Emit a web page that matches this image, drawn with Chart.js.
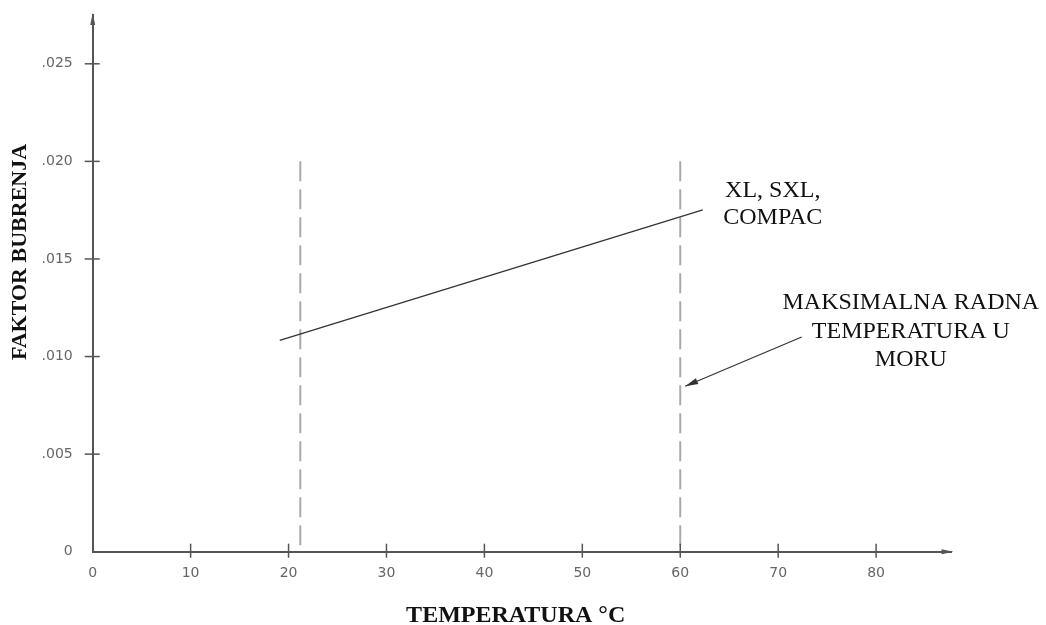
<!DOCTYPE html>
<html><head><meta charset="utf-8">
<script src="https://cdn.jsdelivr.net/npm/chart.js@4.4.1/dist/chart.umd.min.js"></script>
<style>html,body{margin:0;padding:0;background:#fff}#wrap{width:1046px;height:625px;position:relative}</style>
</head><body><div id="wrap"><canvas id="c"></canvas></div>
<script>
// ---- data ----
const xTicks = [0, 10, 20, 30, 40, 50, 60, 70, 80];
const xTickLabels = ['0', '10', '20', '30', '40', '50', '60', '70', '80'];
const yTicks = [0, 0.005, 0.010, 0.015, 0.020, 0.025];
const yTickLabels = ['0', '.005', '.010', '.015', '.020', '.025'];
const xRange = [0, 87.7];
const yRange = [0, 0.0275];
const curveTemp = [19.1, 62.3];
const curveFactor = [0.01083, 0.01752];
const refTemps = [21.2, 60];
const refFactor = [0.020, 0.0002];   // dashed reference lines, drawn top -> bottom
const pointerTemp = [72.4, 60.5];
const pointerFactor = [0.0110, 0.00848];
const curveLabel = ['XL, SXL,', 'COMPAC'];
const noteLabel = ['MAKSIMALNA RADNA', 'TEMPERATURA U', 'MORU'];
const xTitle = 'TEMPERATURA °C';
const yTitle = 'FAKTOR BUBRENJA';
// label anchors (data coords)
const curveLabelAt = {x: 69.45, y: 0.01851};
const noteLabelAt = {x: 83.55, y: 0.01275};

const AX = '#555';
const pts = (xs, ys) => xs.map((x, i) => ({x, y: ys[i]}));

const decor = {
  id: 'decor',
  afterDraw(chart) {
    const {ctx, chartArea: a, scales: {x, y}} = chart;
    ctx.save();
    // tick marks crossing the axes
    ctx.strokeStyle = AX; ctx.lineWidth = 1.5;
    x.ticks.forEach(t => {
      if (t.value === 0) return;
      const px = x.getPixelForValue(t.value);
      ctx.beginPath(); ctx.moveTo(px, a.bottom - 8); ctx.lineTo(px, a.bottom + 6); ctx.stroke();
    });
    y.ticks.forEach(t => {
      if (t.value === 0) return;
      const py = y.getPixelForValue(t.value);
      ctx.beginPath(); ctx.moveTo(a.left - 8, py); ctx.lineTo(a.left + 7, py); ctx.stroke();
    });
    // axis arrowheads
    ctx.fillStyle = AX;
    ctx.beginPath(); ctx.moveTo(a.left, a.top - 2); ctx.lineTo(a.left - 2.5, a.top + 10); ctx.lineTo(a.left + 2.5, a.top + 10); ctx.closePath(); ctx.fill();
    ctx.beginPath(); ctx.moveTo(a.right + 2, a.bottom); ctx.lineTo(a.right - 10, a.bottom - 2.5); ctx.lineTo(a.right - 10, a.bottom + 2.5); ctx.closePath(); ctx.fill();
    // pointer arrowhead
    const p0x = x.getPixelForValue(pointerTemp[0]), p0y = y.getPixelForValue(pointerFactor[0]);
    const p1x = x.getPixelForValue(pointerTemp[1]), p1y = y.getPixelForValue(pointerFactor[1]);
    const ang = Math.atan2(p1y - p0y, p1x - p0x);
    const L = 13, W = 3.2;
    ctx.fillStyle = '#333';
    ctx.beginPath();
    ctx.moveTo(p1x, p1y);
    ctx.lineTo(p1x - L * Math.cos(ang) + W * Math.sin(ang), p1y - L * Math.sin(ang) - W * Math.cos(ang));
    ctx.lineTo(p1x - L * Math.cos(ang) - W * Math.sin(ang), p1y - L * Math.sin(ang) + W * Math.cos(ang));
    ctx.closePath(); ctx.fill();
    // annotation texts
    ctx.fillStyle = '#111';
    ctx.textAlign = 'center'; ctx.textBaseline = 'middle';
    ctx.font = '24px "Liberation Serif", "Times New Roman", serif';
    const cx = x.getPixelForValue(curveLabelAt.x), cy = y.getPixelForValue(curveLabelAt.y);
    curveLabel.forEach((s, i) => ctx.fillText(s, cx, cy + i * 27));
    const nx = x.getPixelForValue(noteLabelAt.x), ny = y.getPixelForValue(noteLabelAt.y);
    noteLabel.forEach((s, i) => ctx.fillText(s, nx, ny + i * 28.5));
    // axis titles
    ctx.font = 'bold 24px "Liberation Serif", "Times New Roman", serif';
    ctx.fillText(xTitle, a.left + 423, a.bottom + 64);
    ctx.save();
    ctx.translate(20, a.top + 237);
    ctx.rotate(-Math.PI / 2);
    ctx.font = 'bold 22px "Liberation Serif", "Times New Roman", serif';
    ctx.fillText(yTitle, 0, 0);
    ctx.restore();
    ctx.restore();
  }
};

new Chart(document.getElementById('c'), {
  type: 'scatter',
  data: {
    datasets: [
      {data: pts(curveTemp, curveFactor), showLine: true, borderColor: '#333', borderWidth: 1.3, pointRadius: 0},
      {data: pts([refTemps[0], refTemps[0]], refFactor), showLine: true, borderColor: '#aaa', borderWidth: 2, borderDash: [20, 8], pointRadius: 0},
      {data: pts([refTemps[1], refTemps[1]], refFactor), showLine: true, borderColor: '#aaa', borderWidth: 2, borderDash: [20, 8], pointRadius: 0},
      {data: pts(pointerTemp, pointerFactor), showLine: true, borderColor: '#333', borderWidth: 1.2, pointRadius: 0}
    ]
  },
  options: {
    responsive: true, maintainAspectRatio: false, animation: false,
    layout: {padding: {top: 15, right: 94.5, left: 0, bottom: 0}},
    plugins: {legend: {display: false}, tooltip: {enabled: false}},
    scales: {
      x: {
        type: 'linear', min: xRange[0], max: xRange[1],
        afterBuildTicks: s => { s.ticks = xTicks.map(v => ({value: v})); },
        afterFit: s => { s.height = 73.3; s.paddingLeft = 0; s.paddingRight = 0; },
        grid: {display: false, drawTicks: false},
        border: {display: true, color: AX, width: 2},
        ticks: {padding: 13, color: '#666', font: {family: '"DejaVu Sans", sans-serif', size: 14},
          callback: v => xTickLabels[xTicks.indexOf(v)]}
      },
      y: {
        type: 'linear', min: yRange[0], max: yRange[1],
        afterBuildTicks: s => { s.ticks = yTicks.map(v => ({value: v})); },
        afterFit: s => { s.width = 92.7; s.paddingTop = 0; s.paddingBottom = 0; },
        grid: {display: false, drawTicks: false},
        border: {display: true, color: AX, width: 2},
        ticks: {padding: 20, color: '#666', font: {family: '"DejaVu Sans", sans-serif', size: 14},
          callback: v => { const i = yTicks.findIndex(t => Math.abs(t - v) < 1e-9); return i < 0 ? '' : yTickLabels[i]; }}
      }
    }
  },
  plugins: [decor]
});
</script></body></html>
